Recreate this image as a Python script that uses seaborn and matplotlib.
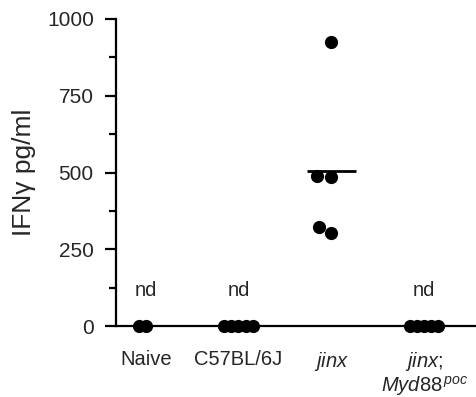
import numpy as np
import pandas as pd
import matplotlib
matplotlib.use("Agg")
import matplotlib.pyplot as plt
import seaborn as sns

categories = ["Naive", "C57BL/6J", "jinx", "jinx;Myd88poc"]
tick_labels = ["Naive", "C57BL/6J", r"$\mathit{jinx}$", "$\\mathit{jinx;}$\n$\\mathit{Myd88}^{\\,\\mathit{poc}}$"]
naive = [0, 0]
c57 = [0, 0, 0, 0, 0]
jinx = [925, 489, 486, 303, 322]
myd88 = [0, 0, 0, 0, 0]
yticks = [0, 250, 500, 750, 1000]

sns.set_style("ticks")
plt.rcParams["font.family"] = ["Liberation Sans", "DejaVu Sans"]
plt.rcParams["mathtext.fontset"] = "custom"
plt.rcParams["mathtext.rm"] = "Liberation Sans"
plt.rcParams["mathtext.it"] = "Liberation Sans:italic"

groups = [naive, c57, jinx, myd88]
df = pd.DataFrame({
    "group": np.repeat(categories, [len(g) for g in groups]),
    "value": np.concatenate(groups).astype(float),
})

fig = plt.figure(figsize=(4.77, 3.97), dpi=100)
ax = fig.add_axes([116 / 477, 71 / 397, 1 - 116 / 477, 307 / 397])

pos = df[df["value"] > 0]
zer = df[df["value"] == 0]
sns.swarmplot(data=pos, x="group", y="value", order=categories, color="black",
              size=9.5, ax=ax, linewidth=0)
n0 = len(ax.collections)
sns.swarmplot(data=zer, x="group", y="value", order=categories, color="black",
              size=4.9, ax=ax, linewidth=0)
swarm_cols = list(ax.collections)
zero_cols = swarm_cols[n0:]

means = df.groupby("group")["value"].mean()
for i, cat in enumerate(categories):
    m = means[cat]
    if m > 0:
        ax.hlines(m, i - 0.265, i + 0.265, color="black", lw=2, zorder=5)
    else:
        ax.text(i, 117, "nd", ha="center", va="center", fontsize=14.5)

ax.set_xlim(-0.32, 3.57)
ax.set_ylim(0, 1000)
ax.set_yticks(yticks)
ax.set_yticks([125, 375, 625, 875], minor=True)
ax.set_xticks(range(len(categories)))
ax.set_xticklabels(tick_labels, fontsize=14.5, linespacing=1.1, va="top")
ax.tick_params(axis="y", which="major", length=8, width=1.6, labelsize=15, pad=8, color="black")
ax.tick_params(axis="y", which="minor", length=5, width=1.6, color="black")
ax.tick_params(axis="x", length=0, pad=17)
ax.set_xlabel("")
ax.set_ylabel("IFNγ pg/ml", fontsize=19, labelpad=8)
sns.despine(ax=ax)
for s in ["left", "bottom"]:
    ax.spines[s].set_linewidth(1.6)
    ax.spines[s].set_color("black")

# compute swarm layout, then freeze it and enlarge the overlapping zero markers
fig.canvas.draw()
for c in swarm_cols:
    if "draw" in c.__dict__:
        del c.draw
    c.set_clip_on(False)
    c.set_zorder(4)
for c in zero_cols:
    c.set_sizes([9.5 ** 2])

fig.savefig("out.png", dpi=100)
